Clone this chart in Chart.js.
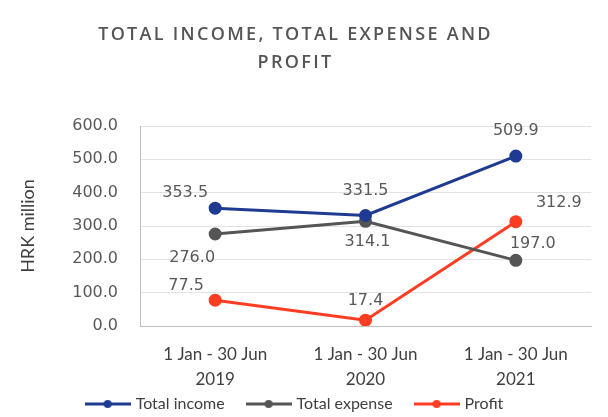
<!DOCTYPE html>
<html><head><meta charset="utf-8">
<script src="https://cdn.jsdelivr.net/npm/chart.js@4.4.0/dist/chart.umd.min.js"></script>
<style>html,body{margin:0;padding:0;background:#fff;}</style>
</head><body>
<canvas id="c" width="608" height="417" style="display:block;width:608px;height:417px"></canvas>
<script>
const categories = [['1 Jan - 30 Jun','2019'],['1 Jan - 30 Jun','2020'],['1 Jan - 30 Jun','2021']];
const totalIncome = [353.5, 331.5, 509.9];
const totalExpense = [276.0, 314.1, 197.0];
const profit = [77.5, 17.4, 312.9];
const seriesNames = ['Total income','Total expense','Profit'];
const yMin = 0, yMax = 600, yStep = 100;
const titleLines = ['TOTAL INCOME, TOTAL EXPENSE AND','PROFIT'];
const yTitle = 'HRK million';

const colors = ['#1f3b91', '#555555', '#ff3d22'];
const labelOffsets = [
  [[-30,-15],[0,-25],[0,-25]],
  [[-23,24],[2,21],[17,-16]],
  [[-29,-14],[0,-19],[43,-19]]
];

function legendIcon(color){
  const cv = document.createElement('canvas');
  cv.width = 46; cv.height = 12;
  const g = cv.getContext('2d');
  g.strokeStyle = color; g.lineWidth = 3;
  g.beginPath(); g.moveTo(0,6); g.lineTo(46,6); g.stroke();
  g.fillStyle = color; g.beginPath(); g.arc(23,6,4,0,Math.PI*2); g.fill();
  return cv;
}

const dataLabelPlugin = {
  id: 'dataLabels',
  afterDatasetsDraw(chart){
    const ctx = chart.ctx;
    ctx.save();
    ctx.font = '16px "DejaVu Sans"';
    ctx.fillStyle = '#595959';
    ctx.textAlign = 'center';
    ctx.textBaseline = 'middle';
    chart.data.datasets.forEach((ds, di) => {
      chart.getDatasetMeta(di).data.forEach((pt, i) => {
        const o = labelOffsets[di][i];
        ctx.fillText(ds.data[i].toFixed(1), pt.x + o[0], pt.y + o[1]);
      });
    });
    ctx.restore();
  }
};

const boxTweaksPlugin = {
  id: 'boxTweaks',
  beforeLayout(chart){
    const lg = chart.legend;
    if (lg && !lg._patched){
      const fit = lg.fit.bind(lg);
      lg.fit = function(){ fit(); this.height = 25; };
      const draw = lg.draw.bind(lg);
      lg.draw = function(){
        const t = this.top;
        this.top = t - 20;
        draw();
        this.top = t;
      };
      lg._patched = true;
    }
  },
  beforeDraw(chart){
    const tb = chart.titleBlock;
    if (tb && !tb._spaced){
      const orig = tb.draw.bind(tb);
      tb.draw = function(){
        chart.ctx.save();
        chart.ctx.letterSpacing = '2.3px';
        orig();
        chart.ctx.restore();
      };
      tb._spaced = true;
    }
  }
};

const mk = (label, data, color) => ({
  label, data,
  borderColor: color, backgroundColor: color,
  borderWidth: 3, pointRadius: 5, pointHoverRadius: 5,
  pointBackgroundColor: color, pointBorderColor: color,
  pointStyle: 'circle', tension: 0
});

new Chart(document.getElementById('c'), {
  type: 'line',
  data: {
    labels: categories,
    datasets: [
      mk(seriesNames[0], totalIncome, colors[0]),
      mk(seriesNames[1], totalExpense, colors[1]),
      mk(seriesNames[2], profit, colors[2])
    ]
  },
  options: {
    responsive: false,
    animation: false,
    events: [],
    layout: { padding: { left: 0, right: 17, top: 0, bottom: 0 } },
    plugins: {
      tooltip: { enabled: false },
      title: {
        display: true,
        text: titleLines,
        color: '#555555',
        font: { family: '"Open Sans"', size: 18, weight: 600, lineHeight: '28px' },
        padding: { top: 21, bottom: 49 }
      },
      legend: {
        position: 'bottom',
        labels: {
          usePointStyle: true,
          pointStyleWidth: 40,
          color: '#404040',
          font: { family: 'Lato', size: 16 },
          padding: 24,
          generateLabels(chart){
            return chart.data.datasets.map((ds, i) => ({
              text: ds.label, pointStyle: legendIcon(colors[i]),
              fillStyle: colors[i], strokeStyle: colors[i], lineWidth: 0,
              hidden: false, datasetIndex: i, fontColor: '#404040'
            }));
          }
        }
      }
    },
    scales: {
      x: {
        offset: true,
        grid: { display: false, drawTicks: false },
        border: { display: true, color: '#bfbfbf', width: 1 },
        ticks: {
          color: '#404040', padding: 16, maxRotation: 0, autoSkip: false,
          font: { family: 'Lato', size: 17, lineHeight: '25px' }
        },
        afterFit(s){ s.height = 66; }
      },
      y: {
        min: yMin, max: yMax,
        grid: { color: '#e3e3e3', drawTicks: false },
        border: { display: true, color: '#bfbfbf', width: 1 },
        ticks: {
          stepSize: yStep, padding: 22, color: '#595959',
          font: { family: '"DejaVu Sans"', size: 16 },
          callback: v => Number(v).toFixed(1)
        },
        title: {
          display: true, text: yTitle, color: '#404040',
          font: { family: 'Lato', size: 18 },
          padding: { top: 17, bottom: 0 }
        },
        afterFit(s){ s.width = 140; }
      }
    }
  },
  plugins: [dataLabelPlugin, boxTweaksPlugin]
});
</script>
</body></html>
